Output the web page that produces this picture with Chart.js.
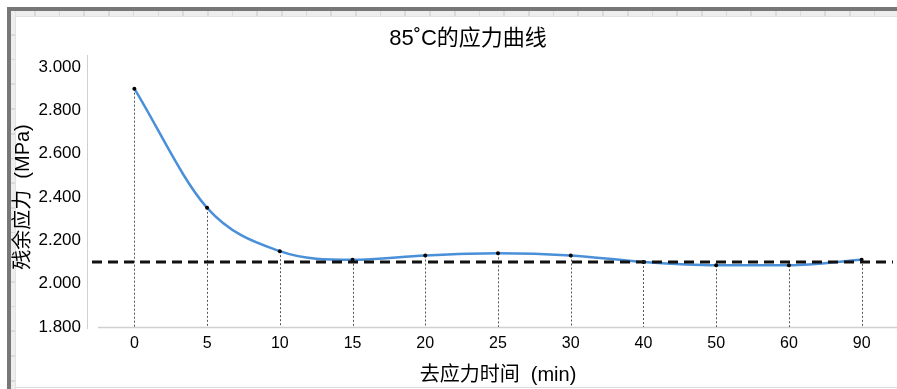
<!DOCTYPE html>
<html>
<head>
<meta charset="utf-8">
<script src="https://cdn.jsdelivr.net/npm/chart.js@4"></script>
<style>
  html, body { margin: 0; padding: 0; width: 897px; height: 389px; overflow: hidden; background: #fff; }
  .sheet-border { position: absolute; left: 7px; top: 7px; width: 900px; height: 400px;
    border-top: 4px solid #777; border-left: 4px solid #777; box-sizing: border-box; }
  .strip-top { position: absolute; left: 11px; top: 11px; width: 890px; height: 5px;
    background: repeating-linear-gradient(to right, #eeeeee 0 23px, #dadada 23px 24.7px);
    border-bottom: 1px solid #e2e2e2; }
  .strip-left { position: absolute; left: 11px; top: 11px; width: 4px; height: 380px;
    background: repeating-linear-gradient(to bottom, #eeeeee 0 23px, #dadada 23px 24.7px);
    border-right: 1px solid #e2e2e2; }
  .sheet-bottom { position: absolute; left: 15px; top: 387px; width: 890px; height: 1px; background: #dcdcdc; }
  #chart { position: absolute; left: 0; top: 0; }
</style>
</head>
<body>
<div class="sheet-border"></div>
<div class="strip-top"></div>
<div class="strip-left"></div>
<div class="sheet-bottom"></div>
<canvas id="chart" width="900" height="389"></canvas>
<script>
// Time after stress removal (min) and residual stress (MPa) at 85°C
const timeLabels = ['0', '5', '10', '15', '20', '25', '30', '40', '50', '60', '90'];
const residualStress = [2.90, 2.35, 2.15, 2.11, 2.13, 2.14, 2.13, 2.10, 2.085, 2.085, 2.11];
const stableLevel = 2.1;
const chartTitle = '85˚C的应力曲线';

const FONT = '"Liberation Sans", Arial, "Noto Sans CJK SC", sans-serif';

// Title, custom axis lines, dotted drop lines and the dashed stable-level line
const guides = {
  id: 'guides',
  beforeDatasetsDraw(chart) {
    const { ctx, chartArea: a } = chart;
    const meta = chart.getDatasetMeta(0);
    ctx.save();
    // title
    ctx.fillStyle = '#000';
    ctx.font = '22px ' + FONT;
    ctx.textAlign = 'center';
    ctx.textBaseline = 'middle';
    ctx.fillText(chartTitle, 468, 39);
    // axis lines
    ctx.strokeStyle = '#d0d0d0';
    ctx.lineWidth = 1;
    ctx.beginPath();
    ctx.moveTo(a.left - 10.5, a.top - 12);
    ctx.lineTo(a.left - 10.5, a.bottom + 2);
    ctx.stroke();
    ctx.lineWidth = 1.5;
    ctx.beginPath();
    ctx.moveTo(a.left, a.bottom + 0.5);
    ctx.lineTo(a.right, a.bottom + 0.5);
    ctx.stroke();
    // dotted drop lines
    ctx.strokeStyle = '#555';
    ctx.lineWidth = 1;
    ctx.setLineDash([2, 2]);
    meta.data.forEach(p => {
      const x = Math.round(p.x) + 0.5;
      ctx.beginPath();
      ctx.moveTo(x, p.y);
      ctx.lineTo(x, a.bottom);
      ctx.stroke();
    });
    ctx.restore();
  },
  afterDatasetsDraw(chart) {
    const { ctx, chartArea: a, scales } = chart;
    const y = scales.y.getPixelForValue(stableLevel);
    ctx.save();
    ctx.strokeStyle = '#111';
    ctx.lineWidth = 3;
    ctx.setLineDash([10, 6]);
    ctx.beginPath();
    ctx.moveTo(a.left - 6, y);
    ctx.lineTo(a.right - 5, y);
    ctx.stroke();
    ctx.restore();
  }
};

new Chart(document.getElementById('chart'), {
  type: 'line',
  data: {
    labels: timeLabels,
    datasets: [{
      data: residualStress,
      borderColor: '#4a90d9',
      borderWidth: 2.5,
      cubicInterpolationMode: 'monotone',
      fill: false,
      pointRadius: 2,
      pointBackgroundColor: '#000',
      pointBorderWidth: 0,
      pointHoverRadius: 2
    }]
  },
  options: {
    responsive: false,
    animation: false,
    layout: { padding: { left: 0, right: 0, top: 67, bottom: 0 } },
    plugins: {
      legend: { display: false },
      tooltip: { enabled: false },
      title: { display: false }
    },
    scales: {
      x: {
        type: 'category',
        offset: true,
        grid: { display: false, drawTicks: false },
        border: { display: false },
        ticks: { color: '#000', font: { family: FONT, size: 16 }, padding: 7, maxRotation: 0, autoSkip: false },
        title: {
          display: true,
          text: '去应力时间  (min)',
          color: '#000',
          font: { family: FONT, size: 20 },
          padding: { top: 4, bottom: 2 }
        },
        afterFit(s) { s.height = 62; }
      },
      y: {
        min: 1.8,
        max: 3.0,
        grid: { display: false, drawTicks: false },
        border: { display: false },
        ticks: {
          stepSize: 0.2,
          color: '#000',
          font: { family: FONT, size: 17 },
          padding: 17,
          callback: v => Number(v).toFixed(3)
        },
        title: {
          display: true,
          text: '残余应力  (MPa)',
          color: '#000',
          font: { family: FONT, size: 20 },
          padding: { top: 11, bottom: 0 }
        },
        afterFit(s) { s.width = 98; }
      }
    }
  },
  plugins: [guides]
});
</script>
</body>
</html>
